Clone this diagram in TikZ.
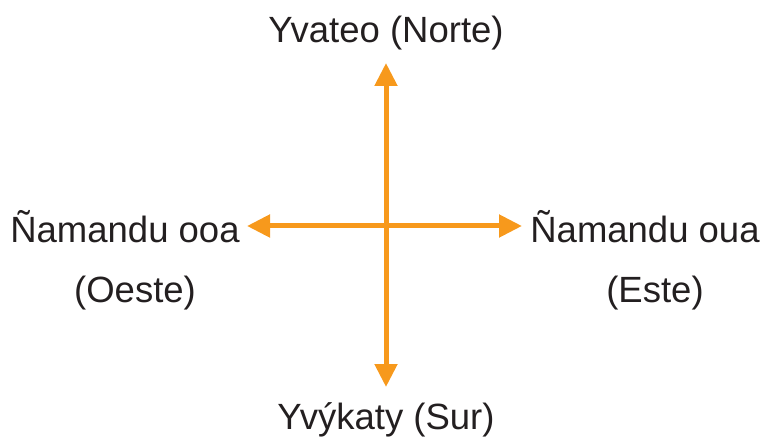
\documentclass[tikz,border=0pt]{standalone}
\usepackage{fontspec}
\setmainfont{Liberation Sans}
\usetikzlibrary{arrows.meta,positioning}
\definecolor{rumbo}{HTML}{F7991C}
\definecolor{letra}{HTML}{231F20}
\tikzset{
  flecha/.style={draw=rumbo, line width=5pt,
    {Triangle[length=23pt,width=22pt]}-{Triangle[length=23pt,width=22pt]}},
  etiqueta/.style={text=letra, font=\fontsize{36.5}{44}\selectfont, inner sep=0pt}
}
\begin{document}
\begin{tikzpicture}[x=1pt,y=-1pt]
  \useasboundingbox (0,0) rectangle (764,441);
  % extremos de la cruz
  \coordinate (n) at (386,63);
  \coordinate (s) at (386,387);
  \coordinate (w) at (247,226);
  \coordinate (e) at (522,226);
  \draw[flecha] (n) -- (s);
  \draw[flecha] (w) -- (e);
  % rumbos
  \node[etiqueta] (norte) at (386,33) {Yvateo (Norte)};
  \node[etiqueta] (sur) at (386,420) {Yvýkaty (Sur)};
  \node[etiqueta] (oeste) at (125,227) {Ñamandu ooa};
  \node[etiqueta] (oesteb) at (135,293) {(Oeste)};
  \node[etiqueta] (este) at (645,227) {Ñamandu oua};
  \node[etiqueta] (esteb) at (655,293) {(Este)};
\end{tikzpicture}
\end{document}
